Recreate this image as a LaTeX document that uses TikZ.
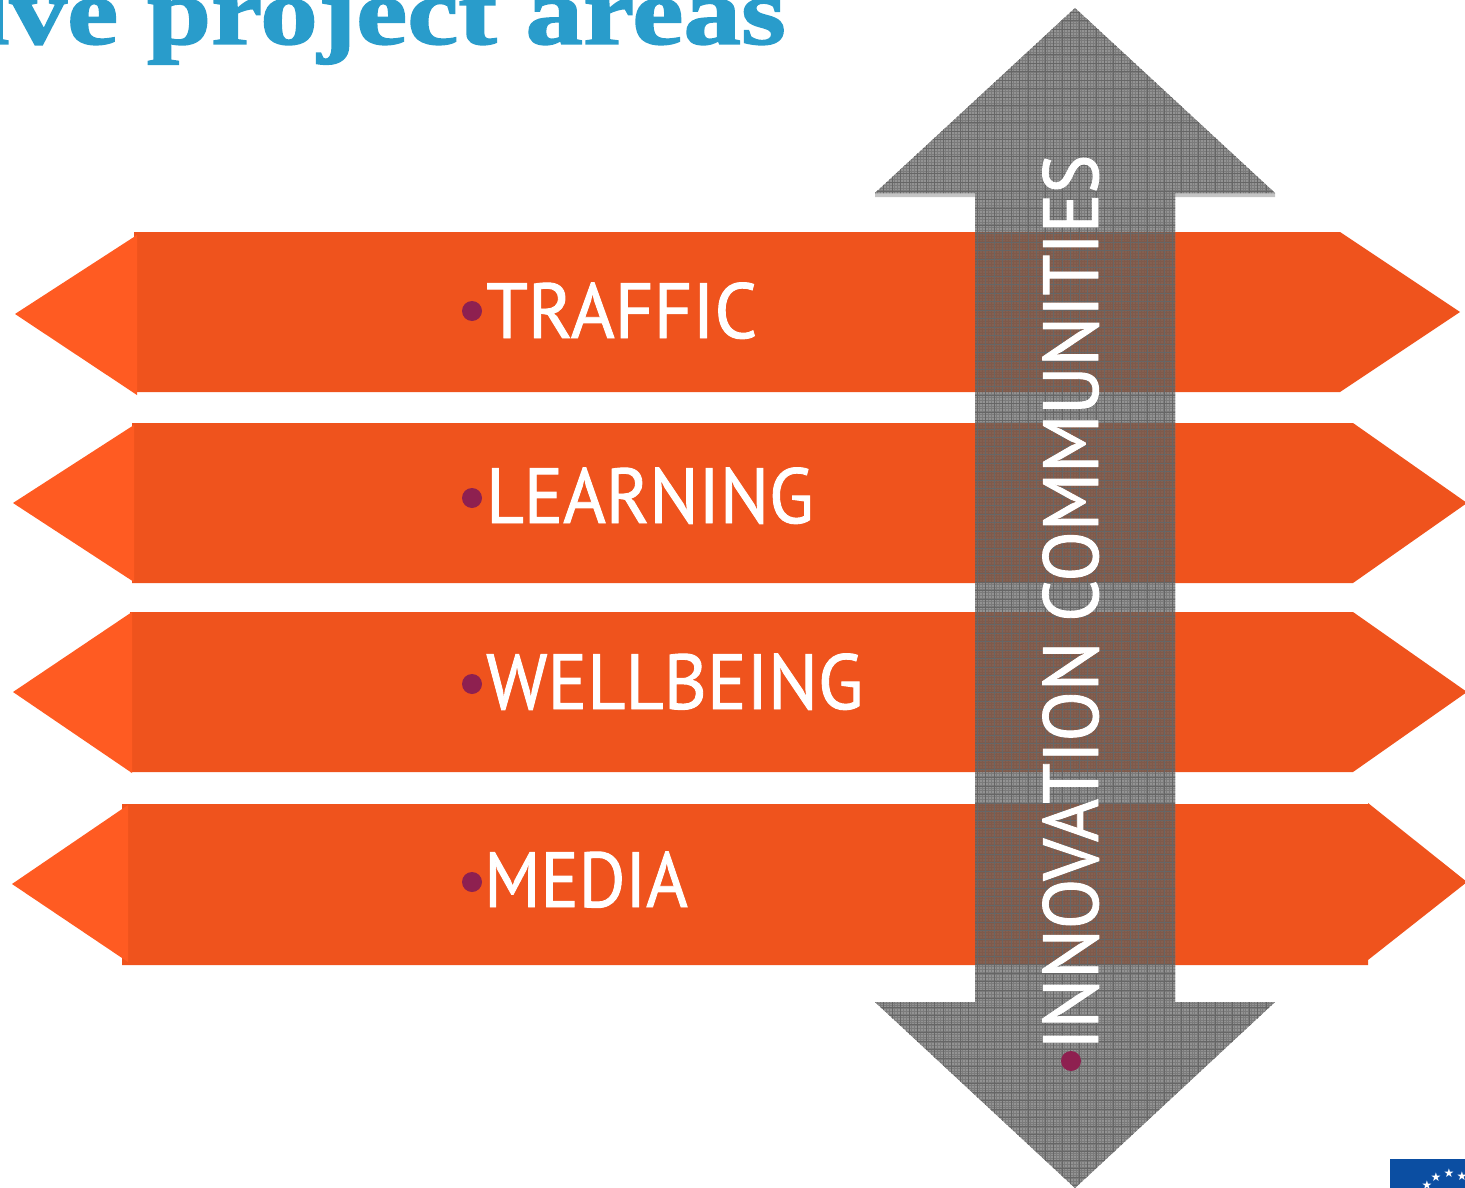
\documentclass[tikz,border=0pt]{standalone}
\usepackage{fontspec}
\setmainfont{PT Sans}[FakeBold=1.2]
\newfontfamily\labelfont{PT Sans}[FakeBold=1.2]
\newfontfamily\titlefont{Liberation Serif}[BoldFeatures={FakeBold=1.5}]
\newfontfamily\starfont{DejaVu Sans}
\definecolor{barbody}{HTML}{EF531D}
\definecolor{barhead}{HTML}{FF5B22}
\definecolor{shaftgrey}{HTML}{939393}
\definecolor{finegrey}{HTML}{7B7B7B}
\definecolor{gridgrey}{HTML}{666666}
\definecolor{overlap}{HTML}{80503C}
\definecolor{bulletc}{HTML}{8E2050}
\definecolor{titleblue}{HTML}{299CCB}
\definecolor{flagblue}{HTML}{0B4EA2}
\tikzset{
  bodyshape/.style={fill=barbody,draw=none},
  headshape/.style={fill=barhead,draw=none},
  label/.style={text=white,font=\labelfont\fontsize{78}{78}\selectfont,inner sep=0pt,anchor=base west},
  bulletdot/.style={circle,fill=bulletc,draw=none,minimum size=20pt,inner sep=0pt},
  flagstar/.style={text=white,font=\starfont\fontsize{12}{12}\selectfont,inner sep=0pt}
}
\newcommand{\arrowpath}{(1075,8) -- (1275,193) -- (1175,193) -- (1175,1002) -- (1275,1002) -- (1075,1188) -- (875,1002) -- (975,1002) -- (975,193) -- (875,193) -- cycle}
\begin{document}
\begin{tikzpicture}[x=1pt,y=-1pt]
\useasboundingbox (0,0) rectangle (1465,1188);
\begin{scope}
\clip (0,0) rectangle (1465,1188);
% title
\node[anchor=base east,inner sep=0pt,text=titleblue,font=\titlefont\bfseries\fontsize{96}{96}\selectfont,xscale=1.2] (title) at (786,44) {ive project areas};
% bars
\fill[bodyshape] (134,232) -- (1340,232) -- (1460,312) -- (1340,392) -- (134,392) -- cycle;
\fill[headshape] (15,314) -- (137,235) -- (137,395) -- cycle;
\fill[bodyshape] (132,423) -- (1353,423) -- (1467,503) -- (1353,583) -- (132,583) -- cycle;
\fill[headshape] (13,503) -- (134,425) -- (134,582) -- cycle;
\fill[bodyshape] (130,612) -- (1353,612) -- (1467,692) -- (1353,772) -- (130,772) -- cycle;
\fill[headshape] (13,692) -- (132,612) -- (132,773) -- cycle;
\fill[bodyshape] (122,804) -- (1368,804) -- (1368,803) -- (1467,882) -- (1368,960) -- (1368,965) -- (122,965) -- cycle;
\fill[headshape] (12,884) -- (128,805) -- (128,962) -- cycle;
% grey double arrow
\fill[shaftgrey!55] (875,193) rectangle (975,197) (1175,193) rectangle (1275,197);
\begin{scope}
\clip \arrowpath;
\fill[shaftgrey] (860,0) rectangle (1290,1188);
\foreach \i in {0,...,150} \draw[finegrey,line width=.7pt] ({875+2.83*\i},0) -- ({875+2.83*\i},1188);
\foreach \i in {0,...,420} \draw[finegrey,line width=.7pt] (860,{4+2.83*\i}) -- (1290,{4+2.83*\i});
\fill[overlap,opacity=.75] (975,232) rectangle (1175,392) (975,423) rectangle (1175,583) (975,612) rectangle (1175,772) (975,804) rectangle (1175,965);
\foreach \i in {0,...,50} \draw[gridgrey,line width=1pt] ({875+8.5*\i},0) -- ({875+8.5*\i},1188);
\foreach \i in {0,...,140} \draw[gridgrey,line width=1pt] (860,{4+8.5*\i}) -- (1290,{4+8.5*\i});
\end{scope}
% labels
\node[bulletdot] (b1) at (472,311) {};
\node[label,xscale=.964] (t1) at (486,338) {TRAFFIC};
\node[bulletdot] (b2) at (472,498) {};
\node[label,xscale=.937] (t2) at (486,523) {LEARNING};
\node[bulletdot] (b3) at (472,684) {};
\node[label,xscale=.949] (t3) at (486,709) {WELLBEING};
\node[bulletdot] (b4) at (472,882) {};
\node[label,xscale=.914] (t4) at (484,907) {MEDIA};
\node[bulletdot] (b5) at (1071,1061) {};
\node[label,rotate=90,xscale=.945] (t5) at (1098,1050) {INNOVATION COMMUNITIES};
% flag
\fill[flagblue] (1390,1159) rectangle (1465,1188);
\node[flagstar] (s1) at (1436,1177) {★};
\node[flagstar] (s2) at (1449,1173) {★};
\node[flagstar] (s3) at (1462,1176) {★};
\node[flagstar] (s4) at (1427,1185) {★};
\end{scope}
\end{tikzpicture}
\end{document}
